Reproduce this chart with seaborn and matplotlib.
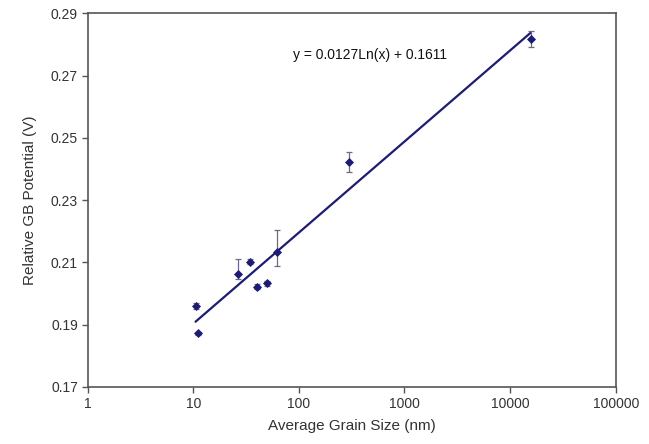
import numpy as np
import pandas as pd
import matplotlib
matplotlib.use("Agg")
import matplotlib.pyplot as plt
import seaborn as sns

# Data
grain_size_nm = [10.5, 11.1, 26.6, 34.8, 40.2, 49.7, 61.4, 298, 15700]
gb_potential_v = [0.1961, 0.1872, 0.2062, 0.2102, 0.2022, 0.2033, 0.2133, 0.2422, 0.2818]
err_lower = [0.0010, 0.0004, 0.0015, 0.0008, 0.0008, 0.0010, 0.0045, 0.0032, 0.0025]
err_upper = [0.0010, 0.0004, 0.0048, 0.0008, 0.0008, 0.0008, 0.0070, 0.0032, 0.0025]
fit_slope = 0.0127
fit_intercept = 0.1611
fit_label = "y = 0.0127Ln(x) + 0.1611"
x_ticks = [1, 10, 100, 1000, 10000, 100000]
x_tick_labels = ["1", "10", "100", "1000", "10000", "100000"]
y_ticks = [0.17, 0.19, 0.21, 0.23, 0.25, 0.27, 0.29]

sns.set_theme(style="white")
plt.rcParams["font.family"] = ["Liberation Sans", "DejaVu Sans"]

navy = "#1c1c78"
fig = plt.figure(figsize=(6.49, 4.44), dpi=100)
ax = fig.add_axes([0.1351, 0.1284, 0.9487 - 0.1351, 0.970 - 0.1284])

df = pd.DataFrame({"x": grain_size_nm, "y": gb_potential_v})

# fit line
xf = np.logspace(np.log10(min(grain_size_nm)), np.log10(max(grain_size_nm)), 200)
fit_df = pd.DataFrame({"x": xf, "y": fit_slope * np.log(xf) + fit_intercept})
sns.lineplot(data=fit_df, x="x", y="y", ax=ax, color=navy, linewidth=1.6, zorder=2)

ax.errorbar(grain_size_nm, gb_potential_v, yerr=[err_lower, err_upper], fmt="none",
            ecolor="#6a6a8a", elinewidth=0.9, capsize=2.5, capthick=0.9, zorder=3)
sns.scatterplot(data=df, x="x", y="y", ax=ax, marker="D", s=16, color=navy,
                edgecolor=navy, linewidth=0.6, zorder=4)

ax.set_xscale("log")
ax.set_xlim(1, 100000)
ax.set_ylim(0.17, 0.29)
ax.set_xticks(x_ticks)
ax.set_xticklabels(x_tick_labels)
ax.xaxis.set_minor_locator(matplotlib.ticker.NullLocator())
ax.set_yticks(y_ticks)
ax.set_yticklabels([f"{v:.2f}" for v in y_ticks])

ax.text(469, 0.2766, fit_label, ha="center", va="center", fontsize=10, color="#111111")

ax.set_xlabel("Average Grain Size (nm)", fontsize=11, color="#333333", labelpad=6)
ax.set_ylabel("Relative GB Potential (V)", fontsize=11, color="#333333", labelpad=10)

for s in ax.spines.values():
    s.set_color("#555555")
    s.set_linewidth(1.2)
ax.tick_params(axis="both", which="major", direction="out", length=4, width=1,
               color="#555555", labelsize=10, labelcolor="#333333", pad=3,
               bottom=True, left=True)

fig.savefig("out.png", dpi=100)
